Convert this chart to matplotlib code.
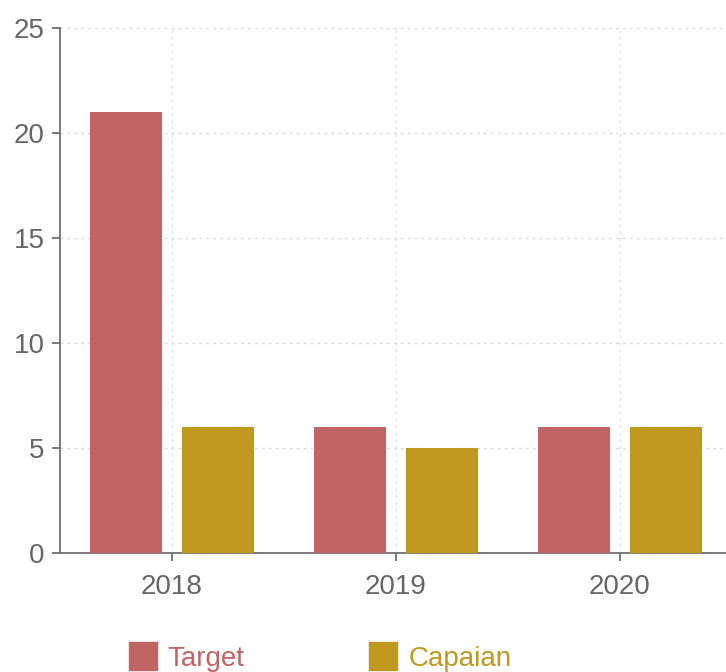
import matplotlib.pyplot as plt
import numpy as np
from matplotlib.lines import Line2D

# --- Data ---
years = ["2018", "2019", "2020"]
target = [21, 6, 6]
capaian = [6, 5, 6]
y_ticks = [0, 5, 10, 15, 20, 25]

target_color = "#c06464"
capaian_color = "#c1981e"
axis_color = "#707070"

plt.rcParams["font.family"] = ["Liberation Sans", "DejaVu Sans"]

fig = plt.figure(figsize=(7.26, 6.72), dpi=100)
W, H = 726, 672
# plot area: x 60..732, y 28..553 (pixels)
ax = fig.add_axes([60 / W, (H - 553) / H, 672 / W, (553 - 28) / H])

x = np.arange(len(years))
bar_w = 0.325
off = 0.205
ax.bar(x - off, target, width=bar_w, color=target_color, zorder=3)
ax.bar(x + off, capaian, width=bar_w, color=capaian_color, zorder=3)

ax.set_xlim(-0.5, len(years) - 0.5)
ax.set_ylim(0, 25)
ax.set_yticks(y_ticks)
ax.set_xticks(x)
ax.set_xticklabels(years)

# grid
ax.grid(axis="y", linestyle=(0, (2, 3)), color="#d8d8d8", linewidth=1, zorder=0)
ax.grid(axis="x", linestyle=(0, (2, 3)), color="#d6e4ec", linewidth=1, zorder=0)

for side in ["top", "right"]:
    ax.spines[side].set_visible(False)
for side in ["left", "bottom"]:
    ax.spines[side].set_color(axis_color)
    ax.spines[side].set_linewidth(1.3)

ax.tick_params(axis="both", colors=axis_color, labelcolor="#666666",
               labelsize=20, length=6, width=1.3)
ax.tick_params(axis="y", pad=5)
ax.tick_params(axis="x", pad=9)

# legend
handles = [
    Line2D([], [], marker="s", linestyle="none", markersize=20,
           markerfacecolor=target_color, markeredgecolor=target_color),
    Line2D([], [], marker="s", linestyle="none", markersize=20,
           markerfacecolor=capaian_color, markeredgecolor=capaian_color),
]
fig.legend(handles, ["Target", "Capaian"], loc="center",
           bbox_to_anchor=(320 / W, 1 - 659 / H), ncol=2, frameon=False,
           fontsize=20, labelcolor=[target_color, capaian_color],
           handlelength=1.0, handletextpad=0.4, columnspacing=4.5)

fig.savefig("out.png", dpi=100)
